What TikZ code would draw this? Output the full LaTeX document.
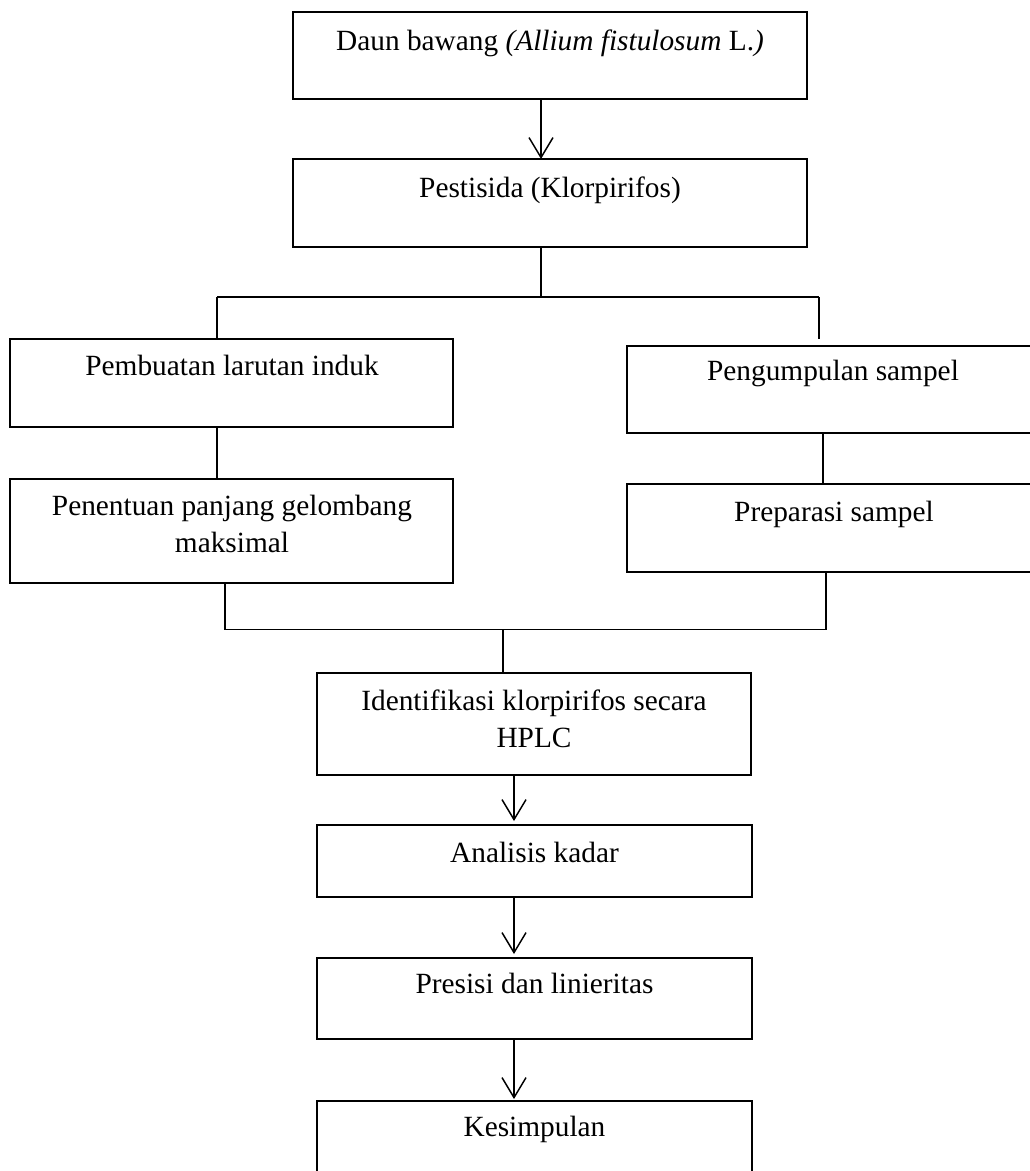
\documentclass[tikz,border=0pt]{standalone}
\usepackage{fontspec}
\setmainfont{Liberation Serif}
\usetikzlibrary{arrows.meta}
\newcommand\mybox[5]{\node[box, minimum width={(#4-#2)*0.75pt}, minimum height={(#5-#3)*0.75pt}] (#1) at (#2,#3) {};}
\begin{document}
\begin{tikzpicture}[x=0.75pt,y=-0.75pt,
 box/.style={draw, line width=1.1pt, inner sep=0pt, outer sep=0pt, anchor=north west},
 lbl/.style={font=\fontsize{22}{27.75}\selectfont, inner sep=0pt, anchor=base, align=center},
 con/.style={line width=1.1pt},
 arr/.style={line width=1.1pt, -{Straight Barb[length=15pt,width=18pt,line width=1.1pt]}}]
\clip (0,0) rectangle (1030,1171);
% boxes
\mybox{b1}{293}{12}{807}{99}
\mybox{b2}{293}{159}{807}{247}
\mybox{b3}{10}{339}{453}{427}
\mybox{b4}{627}{346}{1040}{433}
\mybox{b5}{10}{479}{453}{583}
\mybox{b6}{627}{484}{1040}{572}
\mybox{b7}{317}{673}{751}{775}
\mybox{b8}{317}{825}{752}{897}
\mybox{b9}{317}{958}{752}{1039}
\mybox{b10}{317}{1101}{752}{1190}
% texts (multi-line nodes are anchored at the baseline of their last line)
\node[lbl] (t1) at (550,50) {Daun bawang \textit{(Allium fistulosum} L.\textit{)}};
\node[lbl] (t2) at (550,197) {Pestisida (Klorpirifos)};
\node[lbl] (t3) at (232,375) {Pembuatan larutan induk};
\node[lbl] (t4) at (833,380) {Pengumpulan sampel};
\node[lbl] (t5) at (232,552) {Penentuan panjang gelombang\\maksimal};
\node[lbl] (t6) at (834,521) {Preparasi sampel};
\node[lbl] (t7) at (534,747) {Identifikasi klorpirifos secara\\HPLC};
\node[lbl] (t8) at (534.5,862) {Analisis kadar};
\node[lbl] (t9) at (534.5,993) {Presisi dan linieritas};
\node[lbl] (t10) at (534.5,1136) {Kesimpulan};
% junction coordinates
\coordinate (xa) at (541,0);
\coordinate (j1) at (541,297);
\coordinate (j1l) at (217,297);
\coordinate (j1r) at (819,297);
\coordinate (e4) at (819,339);
\coordinate (xl) at (217,0);
\coordinate (xr) at (823,0);
\coordinate (j2l) at (225,629.5);
\coordinate (j2r) at (826,629.5);
\coordinate (j2) at (503,629.5);
\coordinate (xc) at (514,0);
% connectors
\draw[arr] (b1.south -| xa) -- (b2.north -| xa);
\draw[con] (b2.south -| xa) -- (j1);
\draw[con] (j1l) -- (j1r);
\draw[con] (j1l) -- (b3.north -| j1l);
\draw[con] (j1r) -- (e4);
\draw[con] (b3.south -| xl) -- (b5.north -| xl);
\draw[con] (b4.south -| xr) -- (b6.north -| xr);
\draw[con] (b5.south -| j2l) -- (j2l);
\draw[con] (b6.south -| j2r) -- (j2r);
\draw[con] (j2l) -- (j2r);
\draw[con] (j2) -- (b7.north -| j2);
\draw[arr, shorten >=3pt] (b7.south -| xc) -- (b8.north -| xc);
\draw[arr, shorten >=3pt] (b8.south -| xc) -- (b9.north -| xc);
\draw[arr, shorten >=1.5pt] (b9.south -| xc) -- (b10.north -| xc);
\end{tikzpicture}
\end{document}
